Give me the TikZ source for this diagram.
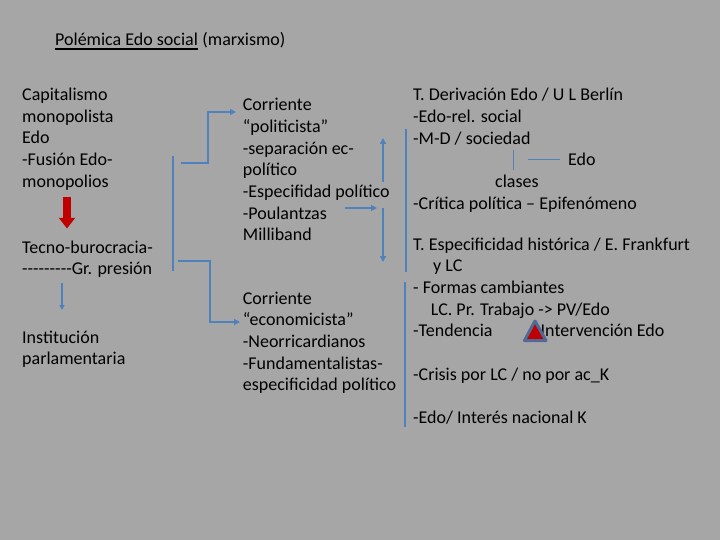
\documentclass[tikz,border=0pt]{standalone}
\usepackage{fontspec}
\newfontfamily\calibri{Carlito}
\usetikzlibrary{arrows.meta}
\definecolor{fondo}{HTML}{A6A6A6}
\definecolor{azul}{HTML}{4F81BD}
\definecolor{rojo}{HTML}{C00000}
\definecolor{borde}{HTML}{4F6A96}
\newcommand{\gn}{\mbox{-}}
\tikzset{
  txt/.style={anchor=base west, inner sep=0, align=left, font=\calibri\fontsize{18}{21.7}\selectfont},
  flecha/.style={azul, line width=2pt, -{Triangle[length=6pt,width=6pt]}},
  linea/.style={azul, line width=1.2pt},
}

\begin{document}
\begin{tikzpicture}[x=1pt,y=-1pt]
\fill[fondo] (0,0) rectangle (720,540);
\useasboundingbox (0,0) rectangle (720,540);
% titulo
\node[txt] (titulo) at (55,46) {Polémica Edo social};
\node[txt] (marx) at (titulo.base east) {\ (marxismo)};
\draw[line width=1.5pt] ([yshift=-2.5]titulo.south west) -- ([yshift=-2.5]titulo.south east);
% columna izquierda (base = ultima linea)
\node[txt] (capmon) at (22,187.3) {Capitalismo\\monopolista\\Edo\\-Fusión Edo-\\monopolios};
\node[txt] (tecno) at (22,274.7) {Tecno-burocracia-\\\gn\gn\gn\gn\gn\gn\gn\gn\gn Gr. presión};
\node[txt] (instit) at (22,364.7) {Institución\\parlamentaria};
\coordinate (r1) at (67,197.5);
\coordinate (r2) at (67,228.5);
\draw[rojo, line width=8.5pt, -{Triangle[length=10.5pt,width=15.5pt]}] (r1) -- (r2);
\coordinate (t1) at (62,283);
\coordinate (t2) at (62,310);
\draw[azul, line width=1.5pt, -{Triangle[length=5pt,width=5pt]}] (t1) -- (t2);
% llave
\coordinate (l1) at (173,156);
\coordinate (l2) at (173,271);
\draw[linea] (l1) -- (l2);
\coordinate (b1) at (181,163);
\coordinate (b2) at (178,261);
\coordinate (politin) at (236,112);
\coordinate (econin) at (240,322);
\draw[flecha] (b1) -- ++(27,0) |- (politin);
\draw[flecha] (b2) -- ++(32,0) |- (econin);
% columna central
\node[txt] (polit) at (242.7,240.9) {Corriente\\“politicista”\\-separación ec-\\político\\-Especifidad político\\-Poulantzas\\Milliband};
\node[txt] (econ) at (242.7,390.8) {Corriente\\“economicista”\\-Neorricardianos\\-Fundamentalistas-\\especificidad político};
\coordinate (m1) at (345,208);
\coordinate (m2) at (377,208);
\coordinate (m3) at (383,182);
\coordinate (m4) at (383,138);
\coordinate (m5) at (383,208);
\coordinate (m6) at (383,262);
\draw[flecha] (m1) -- (m2);
\draw[flecha] (m3) -- (m4);
\draw[flecha] (m5) -- (m6);
% columna derecha
\draw[linea] (406,129) -- (406,272);
\draw[linea] (405,282) -- (405,427);
\node[txt] (deriv) at (413,144.1) {T. Derivación Edo / U L Berlín\\-Edo-rel. social\\-M-D / sociedad};
\node[txt] (edo) at (568,165.8) {Edo};
\node[txt] (clases) at (495,187.5) {clases};
\draw[azul, line width=1pt] (513,150) -- (513,170);
\draw[azul, line width=1pt] (528,160) -- ([xshift=-8pt]edo.west |- 0,160);
\node[txt] (critica) at (413,209.2) {-Crítica política – Epifenómeno};
\node[txt] (especif) at (413,250) {T. Especificidad histórica / E. Frankfurt};
\node[txt] (ylc) at (433,271.7) {y LC};
\node[txt] (formas) at (413,293.3) {- Formas cambiantes};
\node[txt] (lcpr) at (430.7,315) {LC. Pr. Trabajo -> PV/Edo};
\node[txt] (tendencia) at (413,336.7) {-Tendencia};
\node[txt] (interv) at (540.5,336.7) {Intervención Edo};
\filldraw[draw=borde, fill=rojo, line width=3pt, line join=round] (524.5,340.5) -- (546,340.5) -- (535,321) -- cycle;
\node[txt] (crisis) at (413,380) {-Crisis por LC / no por ac\_K};
\node[txt] (edoint) at (413,423.5) {-Edo/ Interés nacional K};
\end{tikzpicture}
\end{document}
